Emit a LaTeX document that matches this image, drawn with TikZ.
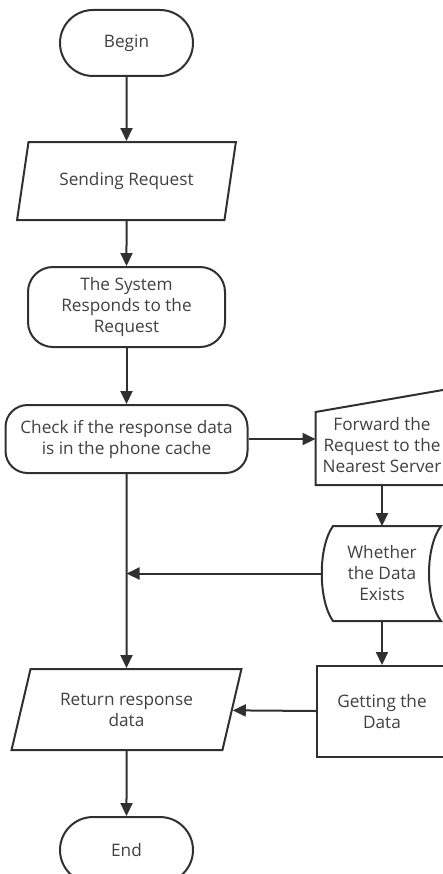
\documentclass[tikz,border=0pt]{standalone}
\usepackage{fontspec}
\setmainfont{Open Sans}
\usetikzlibrary{arrows.meta,shapes.geometric,positioning}

\definecolor{linegray}{HTML}{303030}
\definecolor{textgray}{HTML}{404040}

\begin{document}
\begin{tikzpicture}[
    x = 1pt, y = 1pt, % work in pixels of the picture
    > = {Triangle[length=13pt,width=12pt]}, % arrow head style
    line width = 2pt, % line style
    draw = linegray,
    node distance = 64pt, % distance between nodes
    font = \fontsize{17.2}{21}\selectfont\color{textgray}
    ]

    \tikzset{
    terminal/.style = {
        draw, rectangle, rounded corners = 33pt,
        minimum width = 133pt, minimum height = 66pt, align = center
        },
    process/.style = {
        draw, rectangle, rounded corners = 25pt, align = center
        },
    io/.style = {
        draw, trapezium, trapezium left angle = 71,
        trapezium right angle = 109, trapezium stretches = true,
        align = center
        },
    plain/.style = {
        rectangle, align = center
        },
    flow/.style = {->, linegray}
    }

    \useasboundingbox (0,0) rectangle (442,-874);

    % main column
    \node[terminal] (begin) at (126.5,-43) {Begin};
    \node[io, below = 64pt of begin, minimum width = 219pt,
        minimum height = 78pt] (send) {Sending Request};
    \node[process, below = 45pt of send, minimum width = 197pt,
        minimum height = 80pt] (system) {The System\\Responds to the\\Request};
    \node[process, below = 56pt of system, minimum width = 242pt,
        minimum height = 68pt, rounded corners = 22pt]
        (check) {Check if the response data\\is in the phone cache};
    \node[io, below = 194pt of check, minimum width = 230pt,
        minimum height = 81pt] (return) {Return response\\data};
    \node[terminal, below = 65pt of return] (end) {End};

    % right column
    \node[plain, right = 67pt of check, yshift = -6pt, minimum width = 131pt,
        minimum height = 78pt, inner sep = 0pt] (fwd) {Forward the\\Request to the\\Nearest Server};
    \draw (fwd.south west) -- ([yshift=-7pt]fwd.north west)
        -- ([yshift=16pt]fwd.north east) -- (fwd.south east) -- cycle;

    \node[plain, below = 41pt of fwd, minimum width = 106pt,
        minimum height = 93pt] (whether) {Whether\\the Data\\Exists};
    \draw ([xshift=5pt]whether.north west) -- ([xshift=5pt]whether.north east)
        .. controls +(-16pt,-21pt) and +(-16pt,21pt) .. ([xshift=5pt]whether.south east)
        -- ([xshift=5pt]whether.south west)
        .. controls +(-15pt,21pt) and +(-15pt,-21pt) .. ([xshift=5pt]whether.north west)
        -- cycle;

    \node[draw, plain, below = 44pt of whether, minimum width = 130pt,
        minimum height = 91pt] (get) {Getting the\\Data};

    % connectors
    \draw[flow] (begin) -- (send);
    \draw[flow] (send) -- (system);
    \draw[flow] (system) -- (check);
    \draw[flow] (check) -- (return);
    \draw[flow] (return) -- (end);
    \draw[flow] (check.east) -- (check.east -| fwd.west);
    \draw[flow] (fwd) -- (whether);
    \draw[flow] ([xshift=-6pt]whether.west) -- (whether.west -| check.south);
    \draw[flow] (whether) -- (get);
    \draw[flow] (get) -- (return);
\end{tikzpicture}
\end{document}
